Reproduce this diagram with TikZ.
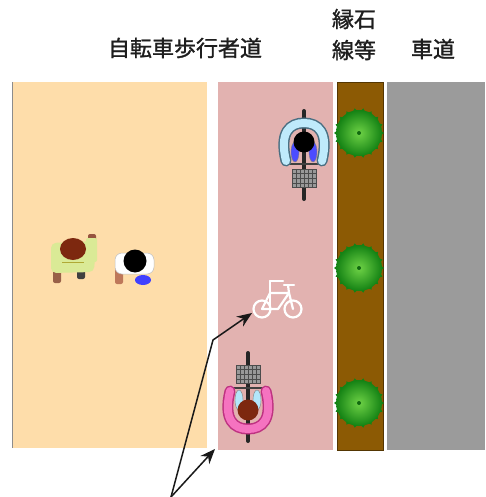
\documentclass[tikz,border=0pt]{standalone}
\usepackage{fontspec}
\setmainfont{Noto Sans CJK JP}
\newfontfamily\headfont{Noto Sans CJK JP}[FakeBold=1.2]
\usetikzlibrary{arrows.meta}
\definecolor{walkbg}{RGB}{254,221,170}
\definecolor{lanebg}{RGB}{226,178,176}
\definecolor{curb}{RGB}{140,90,4}
\definecolor{road}{RGB}{155,155,155}
\definecolor{treelight}{RGB}{110,210,70}
\definecolor{treedark}{RGB}{20,130,20}
\definecolor{labeltext}{RGB}{30,30,30}
\definecolor{shirtgreen}{RGB}{218,234,150}
\definecolor{hairbrown}{RGB}{125,40,15}
\definecolor{skin}{RGB}{190,120,90}
\tikzset{
  label/.style={font=\headfont\fontsize{22}{26}\selectfont, text=labeltext, align=center, inner sep=0pt},
  pointer/.style={draw=black!90, line width=1.5pt, -{Stealth[length=15pt,width=12pt]}},
  pics/tree/.style={code={
    \foreach \a in {0,20,...,340}
      \fill[treedark] (\a:25pt) -- (\a+6:22pt) -- (\a-6:22pt) -- cycle;
    \shade[inner color=treelight, outer color=treedark] (0,0) circle (23);
    \fill[treedark!80!black] (0,0) circle (2);
  }},
  pics/cyclist/.style n args={4}{code={
    % tyres seen from above
    \draw[line width=4pt, black!85, line cap=round] (0,-31) -- (0,57);
    % basket
    \fill[black!40] (-12,27) rectangle (12,45);
    \foreach \u in {-8,-4,0,4,8} \draw[black!70, line width=0.6pt] (\u,27) -- (\u,45);
    \foreach \v in {31,36,41} \draw[black!70, line width=0.6pt] (-12,\v) -- (12,\v);
    \draw[black!70, line width=0.8pt] (-12,27) rectangle (12,45);
    % handlebar
    \draw[black!75, line width=1.2pt] (-18,22) -- (18,22);
    % arms reaching to the grips
    \fill[#2] (-9,10) ellipse (4 and 10);
    \fill[#2] (9,10) ellipse (4 and 10);
    \draw[black!50, line width=0.4pt] (-9,10) ellipse (4 and 10) (9,10) ellipse (4 and 10);
    % shoulders
    \draw[line width=11pt, #3, line cap=round] (-18,19) .. controls (-25,-10) and (-14,-19) .. (0,-19) .. controls (14,-19) and (25,-10) .. (18,19);
    \draw[line width=8pt, #1, line cap=round] (-18,19) .. controls (-25,-10) and (-14,-19) .. (0,-19) .. controls (14,-19) and (25,-10) .. (18,19);
    \fill[#4] (0,0) circle (10.5);
  }}
}
\begin{document}
\begin{tikzpicture}[x=1pt,y=-1pt]
\useasboundingbox (0,0) rectangle (485,497);
\fill[white] (0,0) rectangle (485,497);

% strips of the street cross-section
\fill[walkbg] (12,82) rectangle (207,448);
\draw[black!45, line width=1pt] (12.5,82) -- (12.5,448);
\fill[lanebg] (218,82) rectangle (333,450);
\fill[curb] (337,82) rectangle (383,450);
\draw[curb!60!black, line width=0.8pt] (337,82) rectangle (383,450);
\fill[road] (387,82) rectangle (485,450);

% headings
\node[label] (walkway) at (185,48) {自転車歩行者道};
\node[label] (curbtop) at (354,19) {縁石};
\node[label] (curbbot) at (354,50) {線等};
\node[label] (roadway) at (433,49) {車道};

% trees on the curb strip
\pic at (359,133) {tree};
\pic at (359,268) {tree};
\pic at (359,403) {tree};

% pedestrian with raised arm
\fill[skin!80!black, rounded corners=2pt] (53,268) rectangle (61,283);
\fill[black!75, rounded corners=2pt] (77,268) rectangle (85,279);
\fill[hairbrown!80, rounded corners=2pt] (88,234) rectangle (96,244);
\fill[shirtgreen, rounded corners=5pt] (51,243) -- (96,241) -- (94,272) -- (51,273) -- cycle;
\fill[shirtgreen, rounded corners=2pt] (86,238) rectangle (97,262);
\draw[olive!70, line width=0.5pt] (62,262) -- (84,262);
\fill[hairbrown] (73,249) ellipse (13 and 11);

% pedestrian in white
\fill[skin, rounded corners=2pt] (115,264) rectangle (123,284);
\fill[blue!75] (143,280) ellipse (8 and 5);
\fill[white, rounded corners=7pt] (115,253) rectangle (154,274);
\draw[black!25, line width=0.5pt, rounded corners=7pt] (115,253) rectangle (154,274);
\fill[black] (135,261) circle (11.5);

% riders on the cycle lane
\pic at (304,142) {cyclist={cyan!25}{blue!70}{cyan!45!black}{black}};
\pic[rotate=180] at (248,410) {cyclist={magenta!55}{cyan!30}{magenta!75!black}{hairbrown}};

% bicycle pictogram painted on the lane
\begin{scope}[white, line width=2.2pt, line cap=round, line join=round]
  \draw (262,309) circle (8.5);
  \draw (293,309) circle (8.5);
  \draw (262,309) -- (270,293) -- (289,293) -- (278,309) -- cycle;
  \draw (293,309) -- (289,293) -- (288,285);
  \draw (270,309) -- (270,281);
  \draw (270,281) -- (283,281);
  \draw (284,285) -- (294,285);
\end{scope}
\coordinate (sign) at (252,313);
\coordinate (laneedge) at (215,449);

% leader lines from one point
\coordinate (src) at (171,497);
\coordinate (knee) at (213,340);
\draw[pointer] (src) -- (knee) -- (sign);
\draw[pointer] (src) -- (laneedge);
\end{tikzpicture}
\end{document}
